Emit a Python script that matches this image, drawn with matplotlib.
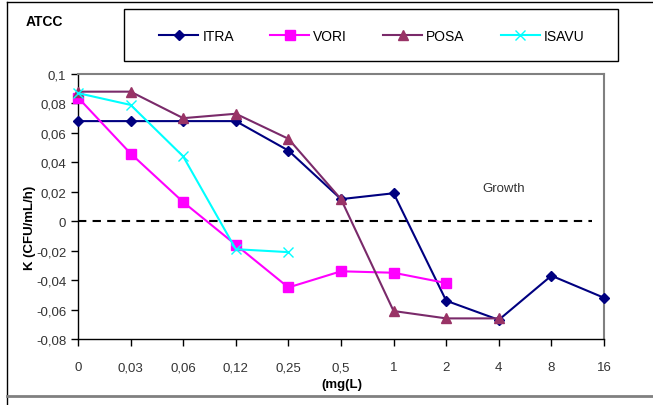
import matplotlib
matplotlib.use("Agg")
import matplotlib.pyplot as plt
from matplotlib.lines import Line2D
from matplotlib.patches import Rectangle

plt.rcParams['font.family'] = ['Liberation Sans', 'DejaVu Sans']

# concentrations (categories on x axis)
doses = ["0", "0,03", "0,06", "0,12", "0,25", "0,5", "1", "2", "4", "8", "16"]

# K values
itra = [0.068, 0.068, 0.068, 0.068, 0.048, 0.015, 0.019, -0.054, -0.067, -0.037, -0.052]
vori = [0.084, 0.046, 0.013, -0.016, -0.045, -0.034, -0.035, -0.042]
posa = [0.088, 0.088, 0.070, 0.073, 0.056, 0.015, -0.061, -0.066, -0.066]
isavu = [0.087, 0.079, 0.044, -0.019, -0.021]

yticks = [-0.08, -0.06, -0.04, -0.02, 0, 0.02, 0.04, 0.06, 0.08, 0.1]
ylabels = ["-0,08", "-0,06", "-0,04", "-0,02", "0", "0,02", "0,04", "0,06", "0,08", "0,1"]

W, H = 653, 406
fig = plt.figure(figsize=(W / 100, H / 100), dpi=100)
ax = fig.add_axes([78 / W, 1 - 340 / H, (604 - 78) / W, (340 - 75) / H])

tick_col = "#333333"

ax.plot(range(len(itra)), itra, color="#000080", marker="D", ms=5, lw=1.5, label="ITRA",
        clip_on=False, zorder=4)
ax.plot(range(len(vori)), vori, color="#FF00FF", marker="s", ms=7, lw=1.5, label="VORI",
        clip_on=False, zorder=4)
ax.plot(range(len(posa)), posa, color="#7A2A6A", marker="^", ms=7, mfc="#993366",
        mec="#993366", lw=1.5, label="POSA", clip_on=False, zorder=4)
ax.plot(range(len(isavu)), isavu, color="#00FFFF", marker="x", ms=7, mew=1, lw=1.5,
        label="ISAVU", clip_on=False, zorder=4)

# zero line
ax.plot([0, 9.78], [0, 0], color="black", lw=1.5, ls=(0, (4, 3)))
ax.text(8.1, 0.0224, "Growth", ha="center", va="center", fontsize=9.5, color="#333333")

ax.set_xlim(0, 10)
ax.set_ylim(-0.08, 0.1)
ax.set_xticks(range(len(doses)))
ax.set_xticklabels(doses)
ax.set_yticks(yticks)
ax.set_yticklabels(ylabels)
ax.tick_params(axis="both", direction="out", length=5, width=1, colors="black",
               labelsize=9.5, labelcolor=tick_col)
ax.tick_params(axis="x", pad=11)

for s in ["left", "bottom"]:
    ax.spines[s].set_color("black")
    ax.spines[s].set_linewidth(1)
for s in ["top", "right"]:
    ax.spines[s].set_color("#808080")
    ax.spines[s].set_linewidth(1.5)

fig.text(342 / W, 1 - 385 / H, "(mg(L)", ha="center", va="center", fontsize=9.5,
         fontweight="bold")
fig.text(30 / W, 1 - 228 / H, "K (CFU/mL/h)", ha="center", va="center", fontsize=9.5,
         fontweight="bold", rotation=90)
fig.text(26 / W, 1 - 22 / H, "ATCC", ha="left", va="center", fontsize=10, fontweight="bold")

# legend box
fig.patches.append(Rectangle((124 / W, 1 - 62 / H), (618 - 124) / W, 52 / H,
                             transform=fig.transFigure, fill=False, ec="black", lw=1))
handles, labels = ax.get_legend_handles_labels()
fig.legend(handles, labels, loc="center", bbox_to_anchor=(372 / W, 1 - 37 / H), ncol=4,
           frameon=False, fontsize=10, handlelength=2.8, handletextpad=0.3,
           columnspacing=2.6)

# outer chart border
fig.add_artist(Line2D([7 / W, 1], [1 - 3 / H, 1 - 3 / H], transform=fig.transFigure,
                      color="black", lw=1))
fig.add_artist(Line2D([7 / W, 7 / W], [0, 1 - 3 / H], transform=fig.transFigure,
                      color="black", lw=1))
fig.add_artist(Line2D([7 / W, 1], [1 - 397 / H, 1 - 397 / H], transform=fig.transFigure,
                      color="#808080", lw=2))

fig.savefig("out.png", dpi=100)
